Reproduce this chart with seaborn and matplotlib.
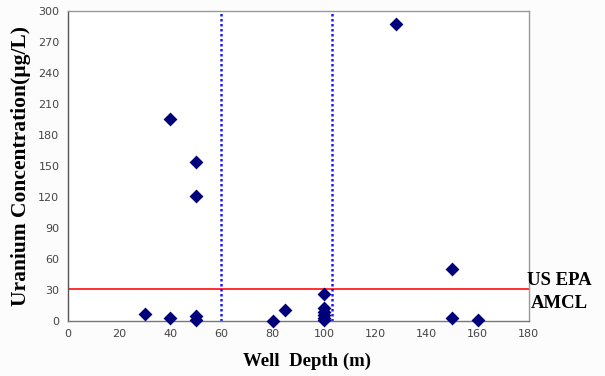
import matplotlib
matplotlib.use("Agg")
import matplotlib.pyplot as plt
import seaborn as sns
import pandas as pd

depth = [30, 40, 40, 50, 50, 50, 50, 80, 85, 100, 100, 100, 100, 100, 100, 128, 150, 150, 160]
uranium = [7, 196, 3, 154, 121, 5, 1, 0, 11, 26, 13, 9, 6, 3, 1, 288, 50, 3, 1]
xticks = [0, 20, 40, 60, 80, 100, 120, 140, 160, 180]
yticks = [0, 30, 60, 90, 120, 150, 180, 210, 240, 270, 300]
limit_value = 31
boundaries = [60, 103]

df = pd.DataFrame({"depth": depth, "uranium": uranium})

sns.set_style("white")
fig = plt.figure(figsize=(6.05, 3.76), dpi=100, facecolor="#fcfcfc")
ax = fig.add_axes([0.112, 0.146, 0.762, 0.824])
ax.set_facecolor("white")

ax.axhline(limit_value, color="#ff2020", lw=1.3, zorder=1)
for b in boundaries:
    ax.axvline(b, color="#1a1aff", lw=1.8, ls=(0, (1, 1)), zorder=1)

sns.scatterplot(data=df, x="depth", y="uranium", ax=ax, marker="D", s=50,
                color="#00007a", edgecolor="#00007a", linewidth=0, zorder=3, clip_on=False)

ax.set_xlim(0, 180)
ax.set_ylim(0, 300)
ax.set_xticks(xticks)
ax.set_yticks(yticks)
ax.tick_params(axis="both", direction="in", length=2, labelsize=8, labelcolor="#444444",
               color="#555555", pad=6)
for s in ax.spines.values():
    s.set_color("#999999")
    s.set_linewidth(1.0)
ax.spines["left"].set_color("#555555")
ax.spines["bottom"].set_color("#777777")

serif = ["Liberation Serif", "DejaVu Serif"]
ax.set_xlabel("Well  Depth (m)", fontsize=13.5, fontweight="bold", family=serif,
              color="black")
ax.xaxis.set_label_coords(0.52, -0.103)
ax.set_ylabel("Uranium Concentration(µg/L)", fontsize=15.5, fontweight="bold", family=serif,
              labelpad=5, color="black")
ax.text(1.067, 0.095, "US EPA\nAMCL", transform=ax.transAxes, fontsize=13.5, fontweight="bold",
        family=serif, ha="center", va="center", linespacing=1.45, color="black")

fig.savefig("out.png", dpi=100, facecolor=fig.get_facecolor())
